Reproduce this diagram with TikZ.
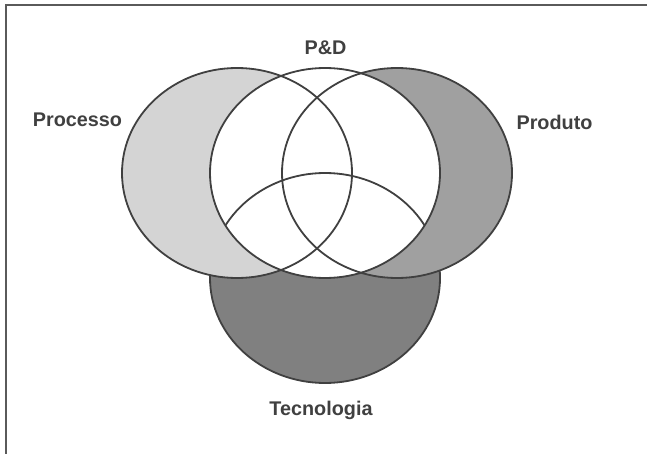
\documentclass[tikz,border=0pt]{standalone}
\usepackage{fontspec}
\setmainfont{Liberation Sans}
\begin{document}
\begin{tikzpicture}[x=1pt,y=-1pt,
  ring/.style={draw=ringline,line width=1.8pt},
  label/.style={font=\fontsize{19.8}{22}\selectfont\bfseries,text=labeltext,inner sep=0pt,anchor=base}]
\definecolor{ringline}{HTML}{404040}
\definecolor{labeltext}{HTML}{404040}
\definecolor{procfill}{HTML}{D4D4D4}
\definecolor{prodfill}{HTML}{A0A0A0}
\definecolor{tecfill}{HTML}{808080}
\definecolor{framecol}{HTML}{5A5A5A}
\useasboundingbox (0,0) rectangle (647,454);
% frame edges (top and left)
\coordinate (fbl) at (5.5,454);
\coordinate (ftl) at (5.5,5.5);
\coordinate (ftr) at (647,5.5);
\draw[framecol,line width=2pt] (fbl) -- (ftl) -- (ftr);
% the four sets
\coordinate (ctec) at (325,278);
\coordinate (cproc) at (237,173);
\coordinate (cprod) at (397,173);
\coordinate (cpd) at (325,173);
\fill[tecfill] (ctec) ellipse [x radius=115, y radius=105];
\draw[ring] (ctec) ellipse [x radius=115, y radius=105];
\fill[procfill] (cproc) ellipse [x radius=115, y radius=105];
\draw[ring] (cproc) ellipse [x radius=115, y radius=105];
\fill[prodfill] (cprod) ellipse [x radius=115, y radius=105];
\draw[ring] (cprod) ellipse [x radius=115, y radius=105];
\fill[white] (cpd) ellipse [x radius=115, y radius=105];
\begin{scope}
  \clip (cpd) ellipse [x radius=115, y radius=105];
  \draw[ring] (ctec) ellipse [x radius=115, y radius=105];
  \draw[ring] (cproc) ellipse [x radius=115, y radius=105];
  \draw[ring] (cprod) ellipse [x radius=115, y radius=105];
\end{scope}
\draw[ring] (cpd) ellipse [x radius=115, y radius=105];
% labels
\node[label] (lproc) at (77.5,127) {Processo};
\node[label] (lprod) at (554.5,130) {Produto};
\node[label] (lpd) at (325.5,55) {P\&D};
\node[label] (ltec) at (321,415) {Tecnologia};
\end{tikzpicture}
\end{document}
